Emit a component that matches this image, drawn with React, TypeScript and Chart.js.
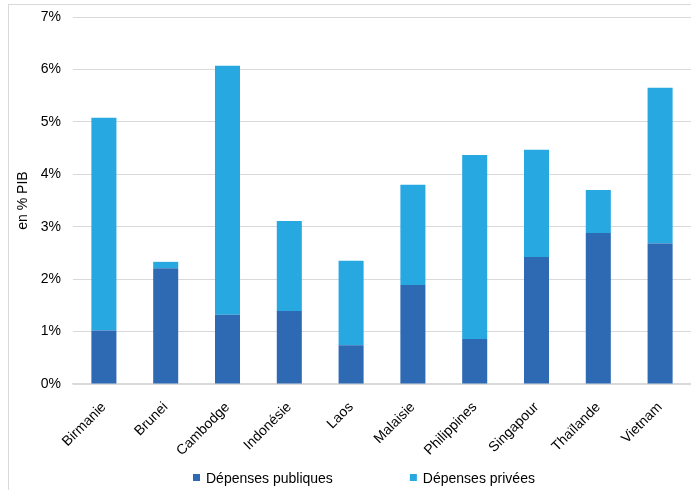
import React, { useEffect, useRef } from 'react';
import { Chart, registerables } from 'chart.js';

Chart.register(...registerables);

const categories = ['Birmanie', 'Brunei', 'Cambodge', 'Indonésie', 'Laos', 'Malaisie', 'Philippines', 'Singapour', 'Thaïlande', 'Vietnam'];
const publicSpending = [1.02, 2.21, 1.32, 1.39, 0.74, 1.89, 0.86, 2.42, 2.88, 2.68];
const privateSpending = [4.06, 0.12, 4.75, 1.72, 1.61, 1.91, 3.51, 2.05, 0.82, 2.97];
const seriesNames = ['Dépenses publiques', 'Dépenses privées'];
const seriesColors = ['#2e69b3', '#27a8e0'];
const yAxisTitle = 'en % PIB';
const yMin = 0;
const yMax = 7;
const yStep = 1;

const FONT = '"Liberation Sans", Arial, Helvetica, sans-serif';

const bottomLegend = {
  id: 'bottomLegend',
  afterDraw(chart: any) {
    const ctx = chart.ctx;
    ctx.save();
    ctx.font = `14px ${FONT}`;
    ctx.textBaseline = 'alphabetic';
    let x = 193;
    const baseline = 483;
    chart.data.datasets.forEach((ds: any) => {
      ctx.fillStyle = ds.backgroundColor;
      ctx.fillRect(x, 474, 7, 7);
      x += 13;
      ctx.fillStyle = '#000';
      ctx.fillText(ds.label, x, baseline);
      x += ctx.measureText(ds.label).width + 77;
    });
    ctx.restore();
  },
};

export default function App() {
  const canvasRef = useRef<HTMLCanvasElement | null>(null);

  useEffect(() => {
    if (!canvasRef.current) return;
    const font = { family: FONT, size: 14 };
    const chart = new Chart(canvasRef.current, {
      type: 'bar',
      data: {
        labels: categories,
        datasets: [
          {
            label: seriesNames[0],
            data: publicSpending,
            backgroundColor: seriesColors[0],
            barPercentage: 0.405,
            categoryPercentage: 1,
          },
          {
            label: seriesNames[1],
            data: privateSpending,
            backgroundColor: seriesColors[1],
            barPercentage: 0.405,
            categoryPercentage: 1,
          },
        ],
      },
      options: {
        responsive: false,
        animation: false,
        layout: { padding: { left: 12, top: 17, right: 0, bottom: 0 } },
        plugins: {
          legend: { display: false },
          tooltip: { enabled: false },
        },
        scales: {
          x: {
            stacked: true,
            grid: { display: false },
            border: { display: true, color: '#d9d9d9', width: 1.5 },
            ticks: {
              font,
              color: '#000',
              maxRotation: 45,
              minRotation: 45,
              padding: 7,
            },
            afterFit: (s: any) => {
              s.height = 106;
            },
          },
          y: {
            stacked: true,
            min: yMin,
            max: yMax,
            ticks: {
              stepSize: yStep,
              callback: (v: any) => v + '%',
              font,
              color: '#000',
              padding: 4,
            },
            grid: { color: '#d9d9d9', drawTicks: true, tickLength: 8, tickColor: 'rgba(0,0,0,0)' },
            border: { display: false },
            title: {
              display: true,
              text: yAxisTitle,
              font,
              color: '#000',
              padding: { top: 3, bottom: 0 },
            },
            afterFit: (s: any) => {
              s.width = 61;
            },
          },
        },
      },
      plugins: [bottomLegend],
    });
    return () => chart.destroy();
  }, []);

  return (
    <div style={{ position: 'fixed', left: 0, top: 0, width: 691, height: 490, overflow: 'hidden', background: '#fff' }}>
      <div
        style={{
          position: 'absolute',
          left: 8,
          top: 4,
          right: -2,
          bottom: -2,
          borderLeft: '1px solid #d9d9d9',
          borderTop: '1px solid #d9d9d9',
        }}
      />
      <canvas ref={canvasRef} width={691} height={490} style={{ position: 'absolute', left: 0, top: 0, display: 'block' }} />
    </div>
  );
}
